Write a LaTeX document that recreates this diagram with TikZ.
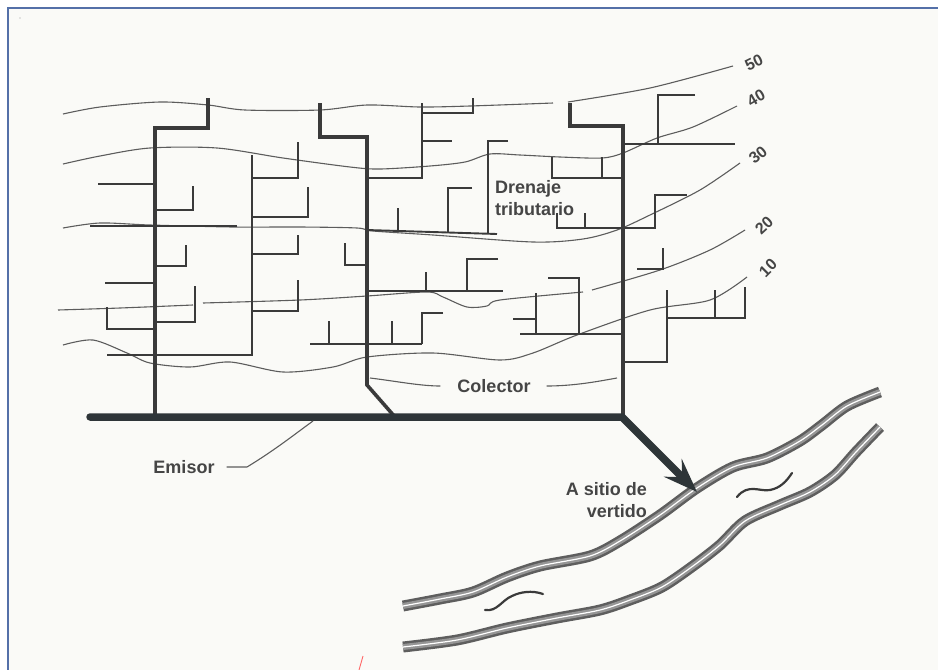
\documentclass[tikz,border=0pt]{standalone}
\usepackage{fontspec}
\setmainfont{Liberation Sans}
\usetikzlibrary{arrows.meta}

\definecolor{paper}{HTML}{FAFAF7}
\definecolor{framecol}{HTML}{5470A8}
\definecolor{pipe}{HTML}{3A3A3A}
\definecolor{contourcol}{HTML}{5C5C5C}
\definecolor{emisorcol}{HTML}{2E3538}
\definecolor{labelcol}{HTML}{454545}
\definecolor{bankdark}{HTML}{5E5E5E}
\definecolor{banklight}{HTML}{959595}

\tikzset{
	contour/.style={draw=contourcol, line width=1.1pt},
	leader/.style={draw=contourcol, line width=1.1pt},
	branch/.style={draw=pipe, line width=1.9pt},
	subcol/.style={draw=pipe, line width=2.3pt},
	colector/.style={draw=pipe, line width=3.6pt},
	emisorline/.style={draw=emisorcol, line width=7.5pt, line cap=round,
		-{Stealth[length=34pt,width=25pt,inset=13pt]}},
	lbl/.style={font=\bfseries\fontsize{18}{22}\selectfont, text=labelcol, inner sep=0pt},
	elev/.style={font=\bfseries\fontsize{16}{18}\selectfont, text=labelcol, inner sep=0pt},
	bank/.style={draw=bankdark, line width=11pt,
		postaction={draw=banklight, line width=6pt},
		postaction={draw=white, line width=1.2pt}},
	ripple/.style={draw=pipe, line width=2.2pt, line cap=round}
}

\begin{document}
\begin{tikzpicture}[x=1pt,y=-1pt]
		%%%%% START %%%%%
		\useasboundingbox (0,0) rectangle (938,670);
		\fill[white] (0,0) rectangle (938,670);
		\fill[paper] (8,8) rectangle (938,670);
		\draw[framecol, line width=1.5pt] (8,670) -- (8,8) -- (938,8);
		\fill[gray!40] (20,18) circle (0.9);
		
		% contour lines
		\draw[contour] plot[smooth] coordinates {(63,114) (100,107) (160,102) (208,105) (245,110) (320,110) (367,105) (420,107) (470,106) (553,103)};
		\draw[contour] plot[smooth] coordinates {(568,102) (650,88) (733,66)};
		\draw[contour] plot[smooth] coordinates {(63,164) (100,156) (150,148) (217,148) (283,158) (350,167) (380,169) (430,166) (465,162) (490,154) (520,155) (560,157) (602,158) (623,153) (657,138) (693,127) (737,106)};
		\draw[contour] plot[smooth] coordinates {(63,228) (100,223) (150,225) (233,227) (300,227) (357,228) (373,231) (433,235) (533,242) (583,239) (617,230) (650,215) (700,190) (740,163)};
		\draw[contour] plot[smooth] coordinates {(58,310) (120,308) (193,305)};
		\draw[contour] plot[smooth] coordinates {(203,303) (300,300) (367,296) (427,292) (443,297) (467,307) (487,306) (500,300) (583,292)};
		\draw[contour] plot[smooth] coordinates {(592,290) (660,270) (710,250) (745,230)};
		\draw[contour] plot[smooth] coordinates {(63,345) (93,340) (127,353) (150,363) (190,367) (230,362) (283,372) (333,367) (367,357) (433,353) (500,360) (533,353) (577,335) (650,310) (710,300) (747,277)};
		
		\node[elev, rotate=26] (h50) at (754,63) {50};
		\node[elev, rotate=30] (h40) at (756,98) {40};
		\node[elev, rotate=40] (h30) at (758,155) {30};
		\node[elev, rotate=43] (h20) at (764,225) {20};
		\node[elev, rotate=45] (h10) at (768,268) {10};
		
		% colectores
		\draw[colector] (208,98) |- (155,128) -- (155,417);
		\draw[colector] (320,103) |- (367,137) -- (367,385) -- (395,417);
		\draw[colector] (570,103) |- (623,126) -- (623,417);
		\draw[subcol] (252,155) -- (252,355) -- (107,355);
		
		% tributary drains, left block
		\draw[branch] (98,184) -- (155,184);
		\draw[branch] (155,210) -| (193,186);
		\draw[branch] (90,226) -- (237,226);
		\draw[branch] (155,266) -| (186,245);
		\draw[branch] (105,283) -- (155,283);
		\draw[branch] (155,322) -| (195,286);
		\draw[branch] (155,329) -| (107,307);
		\draw[branch] (252,178) -| (298,142);
		\draw[branch] (252,217) -| (308,187);
		\draw[branch] (252,254) -| (298,235);
		\draw[branch] (252,311) -| (298,280);
		
		% middle block
		\draw[branch] (367,265) -| (345,243);
		\draw[branch] (310,344) -- (422,344);
		\draw[branch] (329,321) -- (329,344);
		\draw[branch] (392,321) -- (392,344);
		\draw[branch] (443,313) -| (422,344);
		\draw[branch] (367,178) -| (422,103);
		\draw[branch] (422,113) -| (473,98);
		\draw[branch] (422,141) -- (452,141);
		\draw[branch] (367,230) -- (497,234);
		\draw[branch] (398,208) -- (398,232);
		\draw[branch] (472,188) -| (448,233);
		\draw[branch] (508,141) -| (488,234);
		\draw[branch] (367,291) -- (503,291);
		\draw[branch] (426,272) -- (426,291);
		\draw[branch] (498,259) -| (467,291);
		\draw[branch] (623,178) -| (552,157);
		\draw[branch] (602,157) -- (602,178);
		\draw[branch] (557,213) |- (655,228) |- (687,195);
		\draw[branch] (585,213) -- (585,228);
		\draw[branch] (520,334) -- (623,334);
		\draw[branch] (536,293) -- (536,334);
		\draw[branch] (513,319) -- (536,319);
		\draw[branch] (548,278) -| (579,334);
		
		% right of the last colector
		\draw[branch] (623,144) -- (735,144);
		\draw[branch] (695,95) -| (658,144);
		\draw[branch] (637,269) -| (663,248);
		\draw[branch] (623,362) -| (667,290);
		\draw[branch] (667,318) -| (745,287);
		\draw[branch] (715,290) -- (715,318);
		
		% river
		\draw[bank] plot[smooth] coordinates {(403,606) (440,599) (473,592) (507,577) (540,566) (590,556) (620,541) (660,515) (697,488) (733,467) (767,458) (800,441) (822,425) (847,406) (880,392)};
		\draw[bank] plot[smooth] coordinates {(403,647) (457,640) (507,628) (557,618) (600,610) (630,600) (662,587) (693,566) (720,545) (745,521) (780,505) (810,492) (835,475) (856,452) (880,427)};
		\draw[ripple] (737,497) .. controls (748,483) and (760,492) .. (770,490) .. controls (780,488) and (786,482) .. (792,473);
		\draw[ripple] (485,610) .. controls (497,612) and (502,600) .. (512,596) .. controls (520,592) and (532,590) .. (543,594);
		
		% emisor and outfall
		\coordinate (emL) at (90,417);
		\coordinate (emR) at (622,417);
		\coordinate (outfall) at (697,492);
		\draw[emisorline] (emL) -- (emR) -- (outfall);
		
		% labels
		\node[lbl, align=left, anchor=west] (drenaje) at (495,198) {Drenaje\\tributario};
		\node[lbl] (colector) at (494,386) {Colector};
		\node[lbl] (emisor) at (184,467) {Emisor};
		\node[lbl, align=right, anchor=east] (sitio) at (647,500) {A sitio de\\vertido};
		
		\coordinate (colL) at (370,378);
		\coordinate (colR) at (617,378);
		\coordinate (emTap) at (313,421);
		\draw[leader] ([xshift=-17pt]colector.west) .. controls (420,386) and (395,381) .. (colL);
		\draw[leader] ([xshift=16pt]colector.east) .. controls (575,386) and (600,381) .. (colR);
		\draw[leader] ([xshift=12pt]emisor.east) -- (247,467) .. controls (275,450) and (295,434) .. (emTap);
		
		\draw[red!60, line width=0.9pt] (363,656) -- (359,670);
		%%%%% END %%%%%
	\end{tikzpicture}
\end{document}
